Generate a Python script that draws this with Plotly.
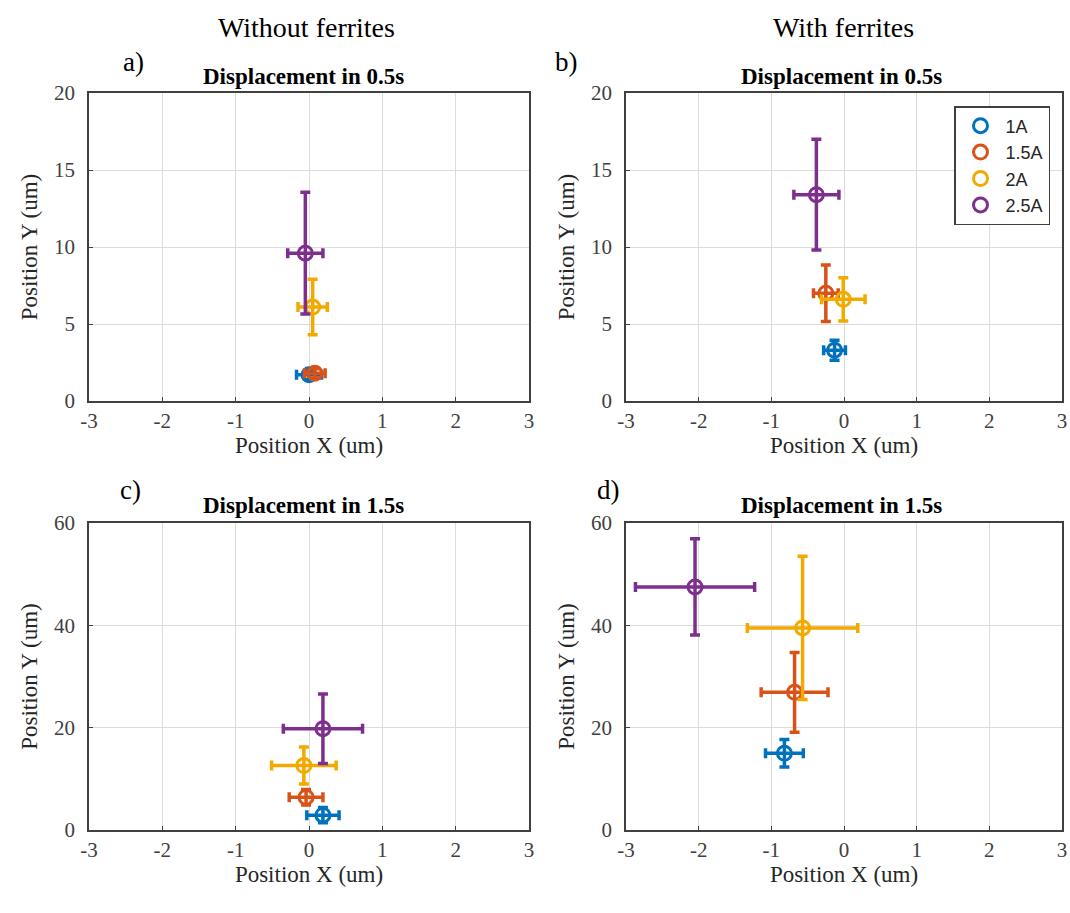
import plotly.graph_objects as go

# ---- data ----
currents = ["1A", "1.5A", "2A", "2.5A"]
colors = ["#0072BD", "#D95319", "#F2A900", "#7E2F8E"]

# a) without ferrites, 0.5 s
a_x = [0.00, 0.08, 0.05, -0.05]
a_y = [1.7, 1.8, 6.1, 9.6]
a_ex = [0.17, 0.14, 0.20, 0.24]
a_ey = [0.3, 0.3, 1.8, 3.95]

# b) with ferrites, 0.5 s
b_x = [-0.13, -0.25, -0.01, -0.38]
b_y = [3.3, 7.0, 6.6, 13.4]
b_ex = [0.15, 0.17, 0.30, 0.31]
b_ey = [0.65, 1.83, 1.4, 3.6]

# c) without ferrites, 1.5 s
c_x = [0.19, -0.04, -0.07, 0.19]
c_y = [2.9, 6.4, 12.6, 19.8]
c_ex = [0.22, 0.23, 0.44, 0.54]
c_ey = [1.5, 1.5, 3.6, 6.8]

# d) with ferrites, 1.5 s
d_x = [-0.82, -0.68, -0.57, -2.05]
d_y = [15.0, 26.9, 39.5, 47.5]
d_ex = [0.26, 0.46, 0.76, 0.82]
d_ey = [2.7, 7.8, 14.0, 9.4]

x_ticks = [-3, -2, -1, 0, 1, 2, 3]

W, H = 1070, 913
def px(x): return x / W
def py(y): return 1 - y / H

serif = "Liberation Serif, Times New Roman, serif"

fig = go.Figure()

panels = [
    ("x", "y", a_x, a_y, a_ex, a_ey, False),
    ("x2", "y2", b_x, b_y, b_ex, b_ey, True),
    ("x3", "y3", c_x, c_y, c_ex, c_ey, False),
    ("x4", "y4", d_x, d_y, d_ex, d_ey, False),
]

for xa, ya, xs, ys, exs, eys, show in panels:
    for i in range(len(currents)):
        fig.add_trace(go.Scatter(
            x=[xs[i]], y=[ys[i]], xaxis=xa, yaxis=ya,
            mode="markers", name=currents[i], showlegend=show,
            marker=dict(symbol="circle-open", size=14, color=colors[i], line=dict(width=3)),
            error_x=dict(type="data", array=[exs[i]], color=colors[i], thickness=3.5, width=5),
            error_y=dict(type="data", array=[eys[i]], color=colors[i], thickness=3.5, width=5),
        ))

axis_common = dict(
    showgrid=True, gridcolor="#DCDCDC", gridwidth=1,
    showline=True, linecolor="#404040", linewidth=1.5, mirror=True,
    ticks="inside", ticklen=4, tickcolor="#404040",
    tickfont=dict(family=serif, size=21, color="#404040"),
    zeroline=False, automargin=False,
)

left_dom = [px(89), px(529)]
right_dom = [px(626), px(1062)]
top_dom = [py(401), py(93)]
bot_dom = [py(830), py(523)]

def xaxis(dom, anchor):
    return dict(axis_common, domain=dom, anchor=anchor, range=[-3, 3],
                tickvals=x_ticks, ticktext=[str(v) for v in x_ticks],
                title=dict(text="Position X (um)", font=dict(family=serif, size=23, color="#262626"), standoff=4))

def yaxis(dom, anchor, rng, dtick):
    return dict(axis_common, domain=dom, anchor=anchor, range=rng, dtick=dtick,
                ticklabelstandoff=8,
                title=dict(text="Position Y (um)", font=dict(family=serif, size=23, color="#262626"), standoff=10))

fig.update_layout(
    width=W, height=H,
    margin=dict(l=0, r=0, t=0, b=0),
    paper_bgcolor="white", plot_bgcolor="white",
    xaxis=xaxis(left_dom, "y"), yaxis=yaxis(top_dom, "x", [0, 20], 5),
    xaxis2=xaxis(right_dom, "y2"), yaxis2=yaxis(top_dom, "x2", [0, 20], 5),
    xaxis3=xaxis(left_dom, "y3"), yaxis3=yaxis(bot_dom, "x3", [0, 60], 20),
    xaxis4=xaxis(right_dom, "y4"), yaxis4=yaxis(bot_dom, "x4", [0, 60], 20),
    legend=dict(x=px(1050), y=py(106), xanchor="right", yanchor="top",
                bgcolor="white", bordercolor="#404040", borderwidth=1.5,
                font=dict(family="Liberation Sans, Arial, sans-serif", size=18, color="#262626"),
                tracegroupgap=0, itemwidth=40),
    showlegend=True,
)

annots = [
    ("Without ferrites", 306, 27, 28),
    ("With ferrites", 843, 27, 28),
    ("a)", 133, 62, 27),
    ("b)", 566, 62, 27),
    ("c)", 130, 490, 27),
    ("d)", 608, 490, 27),
    ("<b>Displacement in 0.5s</b>", 303, 76, 23),
    ("<b>Displacement in 0.5s</b>", 841, 76, 23),
    ("<b>Displacement in 1.5s</b>", 303, 505, 23),
    ("<b>Displacement in 1.5s</b>", 841, 505, 23),
]
for text, x, y, size in annots:
    fig.add_annotation(text=text, x=px(x), y=py(y), xref="paper", yref="paper",
                       showarrow=False, xanchor="center", yanchor="middle",
                       font=dict(family=serif, size=size, color="black"))

fig.write_html("out.html")
